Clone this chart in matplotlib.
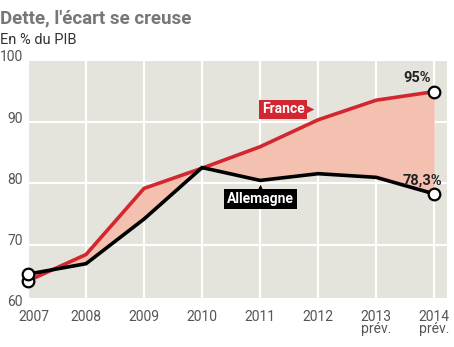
import matplotlib
matplotlib.use("Agg")
import matplotlib.pyplot as plt

years = [2007, 2008, 2009, 2010, 2011, 2012, 2013, 2014]
year_labels = ["2007", "2008", "2009", "2010", "2011", "2012", "2013\nprév.", "2014\nprév."]
france = [64.1, 68.4, 79.2, 82.5, 86.0, 90.4, 93.6, 95.0]
allemagne = [65.2, 66.9, 74.2, 82.6, 80.5, 81.6, 81.0, 78.3]
yticks = [60, 70, 80, 90, 100]

plt.rcParams['font.family'] = ['Roboto', 'DejaVu Sans']

W, H = 454, 347
fig = plt.figure(figsize=(W/100, H/100), dpi=100)
left, right, top, bottom = 28, 447, 61, 298
ax = fig.add_axes([left/W, 1-bottom/H, (right-left)/W, (bottom-top)/H])
ax.set_facecolor('#e4e3dc')
for s in ax.spines.values():
    s.set_visible(False)
ax.set_xlim(2007, 2014.22)
ax.set_ylim(61.3, 100)

for y in years:
    ax.axvline(y, color='white', lw=1.6, zorder=1)
for v in [70, 80, 90]:
    ax.axhline(v, color='white', lw=1.6, zorder=1)

ax.fill_between(years, france, allemagne, color='#f4c1b1', lw=0, zorder=2)
ax.plot(years, france, color='#d22630', lw=2.6, zorder=3, solid_joinstyle='miter')
ax.plot(years, allemagne, color='black', lw=2.6, zorder=4, solid_joinstyle='miter')

ends = [0, len(years)-1]
ax.scatter([years[i] for i in ends], [france[i] for i in ends], s=70, facecolor='white',
           edgecolor='black', lw=1.6, zorder=5, clip_on=False)
ax.scatter([years[i] for i in ends], [allemagne[i] for i in ends], s=70, facecolor='white',
           edgecolor='black', lw=1.6, zorder=5, clip_on=False)

ax.set_xticks([])
ax.set_yticks([])

# y tick labels
for v in yticks:
    ax.text(-0.012, v + 0.6, str(v), transform=ax.get_yaxis_transform(), ha='right', va='center',
            fontsize=10, color='#555555')
# x tick labels
for i, (y, lab) in enumerate(zip(years, year_labels)):
    xx = y + (0.1 if i == 0 else 0)
    ax.text(xx, -0.05, lab, transform=ax.get_xaxis_transform(), ha='center', va='top',
            fontsize=10, color='#555555', linespacing=0.85)

# value labels
ax.text(years[-1] - 0.3, france[-1] + 1.1, "95%", ha='center', va='bottom', fontsize=10.5,
        fontweight='bold', color='#222222', zorder=6)
ax.text(years[-1] - 0.2, allemagne[-1] + 1.1, "78,3%", ha='center', va='bottom', fontsize=10.5,
        fontweight='bold', color='#222222', zorder=6)

# series labels
ax.text(2011.4, 92.1, "France", ha='center', va='center', fontsize=10, fontweight='bold',
        color='white', zorder=7,
        bbox=dict(boxstyle='square,pad=0.2', fc='#d22630', ec='none'))
ax.scatter([2011.86], [92.1], marker='>', s=30, color='#d22630', zorder=7, lw=0)
ax.text(2011.0, 77.5, "Allemagne", ha='center', va='center', fontsize=10, fontweight='bold',
        color='white', zorder=7,
        bbox=dict(boxstyle='square,pad=0.22', fc='black', ec='none'))
ax.scatter([2011.0], [79.3], marker='^', s=30, color='black', zorder=7, lw=0)

fig.text(0/W, 1-18/H, "Dette, l'écart se creuse", fontsize=13.5, fontweight='bold',
         color='#777777', ha='left', va='center')
fig.text(0/W, 1-40/H, "En % du PIB", fontsize=10.5, color='#333333', ha='left', va='center')

fig.savefig('out.png', dpi=100)
